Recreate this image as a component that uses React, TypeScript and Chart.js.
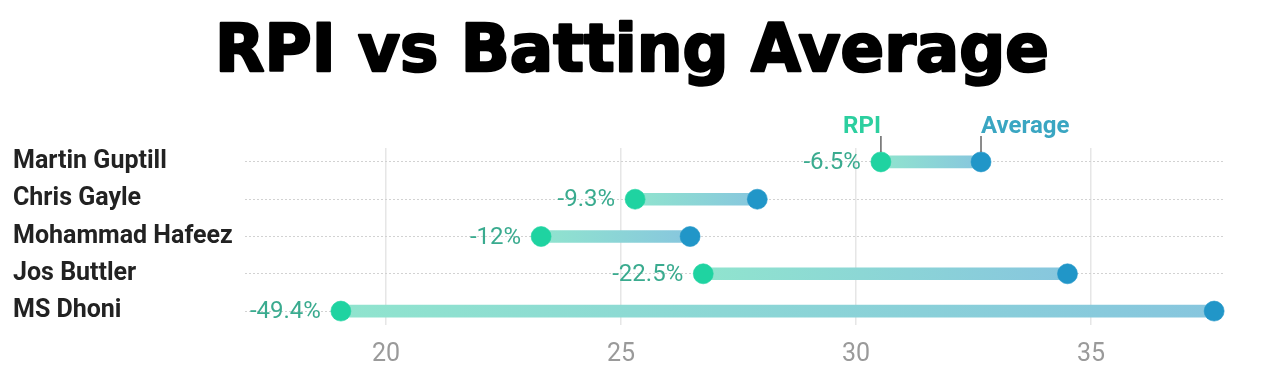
import React, { useEffect, useRef } from "react";
import { Chart, registerables } from "chart.js";

Chart.register(...registerables);

const players = ["Martin Guptill", "Chris Gayle", "Mohammad Hafeez", "Jos Buttler", "MS Dhoni"];
const rpi = [30.53, 25.3, 23.3, 26.75, 19.04];
const average = [32.66, 27.9, 26.47, 34.5, 37.62];
const pctLabels = ["-6.5%", "-9.3%", "-12%", "-22.5%", "-49.4%"];
const xTicks = [20, 25, 30, 35];
const seriesNames = ["RPI", "Average"];
const titleText = "RPI vs Batting Average";

const RPI_COLOR = "#1fd3a1";
const AVG_COLOR = "#2196c8";

const overlayPlugin = {
  id: "overlay",
  afterDatasetsDraw(chart: any) {
    const { ctx, scales } = chart;
    const xs = scales.x;
    const ys = scales.y;
    ctx.save();
    // percentage labels
    ctx.font = "24px Roboto";
    ctx.fillStyle = "#3aab8f";
    ctx.textAlign = "right";
    ctx.textBaseline = "middle";
    for (let i = 0; i < players.length; i++) {
      const px = xs.getPixelForValue(rpi[i]);
      const py = ys.getPixelForValue(i);
      ctx.fillText(pctLabels[i], px - 20, py + 1);
    }
    // series annotations above first row
    const y0 = ys.getPixelForValue(0);
    const rx = xs.getPixelForValue(rpi[0]);
    const ax = xs.getPixelForValue(average[0]);
    ctx.strokeStyle = "#666";
    ctx.lineWidth = 1.5;
    ctx.beginPath();
    ctx.moveTo(rx, y0 - 26);
    ctx.lineTo(rx, y0 - 10);
    ctx.moveTo(ax, y0 - 26);
    ctx.lineTo(ax, y0 - 10);
    ctx.stroke();
    ctx.font = "bold 24px Roboto";
    ctx.textBaseline = "alphabetic";
    ctx.textAlign = "right";
    ctx.fillStyle = "#2ccf9f";
    ctx.fillText(seriesNames[0], rx, y0 - 29);
    ctx.textAlign = "left";
    ctx.fillStyle = "#3aa6c2";
    ctx.fillText(seriesNames[1], ax, y0 - 29);
    // title
    ctx.font = "bold 66px 'DejaVu Sans'";
    ctx.fillStyle = "#000";
    ctx.strokeStyle = "#000";
    ctx.lineJoin = "round";
    ctx.lineWidth = 2.5;
    ctx.textAlign = "left";
    const w = ctx.measureText(titleText).width;
    const target = 834;
    const sx = target / w;
    ctx.translate(chart.width / 2 - target / 2, 71);
    ctx.scale(sx, 1);
    ctx.fillText(titleText, 0, 0);
    ctx.strokeText(titleText, 0, 0);
    ctx.restore();
  },
};

export default function App() {
  const ref = useRef<HTMLCanvasElement | null>(null);
  useEffect(() => {
    document.body.style.margin = "0";
    const canvas = ref.current!;
    const chart = new Chart(canvas, {
      type: "bar",
      data: {
        datasets: [
          {
            type: "line" as any,
            label: seriesNames[0],
            data: rpi.map((v, i) => ({ x: v, y: i })),
            showLine: false,
            pointRadius: 10,
            pointHoverRadius: 10,
            pointBackgroundColor: RPI_COLOR,
            pointBorderColor: "rgba(31,211,161,0.6)",
            pointBorderWidth: 1,
            clip: false,
            order: 0,
          } as any,
          {
            type: "line" as any,
            label: seriesNames[1],
            data: average.map((v, i) => ({ x: v, y: i })),
            showLine: false,
            pointRadius: 10,
            pointHoverRadius: 10,
            pointBackgroundColor: AVG_COLOR,
            pointBorderColor: "rgba(33,150,200,0.6)",
            pointBorderWidth: 1,
            clip: false,
            order: 1,
          } as any,
          {
            type: "bar",
            label: "range",
            data: players.map((_, i) => ({ x: [rpi[i], average[i]], y: i })) as any,
            barThickness: 12,
            grouped: false,
            borderSkipped: false,
            borderRadius: 6,
            order: 2,
            backgroundColor: (c: any) => {
              const ch = c.chart;
              const xs = ch.scales && ch.scales.x;
              if (!ch.chartArea || !xs || !c.raw) return "#8fd9d4";
              const x1 = xs.getPixelForValue(c.raw.x[0]);
              const x2 = xs.getPixelForValue(c.raw.x[1]);
              const g = ch.ctx.createLinearGradient(x1, 0, x2, 0);
              g.addColorStop(0, "#90e4ce");
              g.addColorStop(1, "#87c6de");
              return g;
            },
          } as any,
        ],
      },
      options: {
        indexAxis: "y",
        animation: false,
        responsive: false,
        maintainAspectRatio: false,
        layout: { padding: { left: 13, right: 40, top: 148, bottom: 0 } },
        plugins: { legend: { display: false }, tooltip: { enabled: false }, title: { display: false } },
        scales: {
          x: {
            type: "linear",
            min: 17,
            max: 37.83,
            offset: false,
            afterBuildTicks: (s: any) => {
              s.ticks = xTicks.map((v) => ({ value: v }));
            },
            afterFit: (s: any) => {
              s.height = 56;
            },
            border: { display: false },
            grid: { offset: false, color: "#e6e6e6", lineWidth: 1.5, drawTicks: false },
            ticks: {
              padding: 15,
              color: "#9a9a9a",
              font: { family: "Roboto", size: 25 },
            },
          },
          y: {
            type: "linear",
            reverse: true,
            offset: false,
            min: -0.373,
            max: 4.373,
            afterBuildTicks: (s: any) => {
              s.ticks = players.map((_, i) => ({ value: i }));
            },
            afterFit: (s: any) => {
              s.width = 232;
            },
            border: { display: false, dash: [2, 2] },
            grid: { offset: false, color: "#d2d2d2", lineWidth: 1, drawTicks: false },
            ticks: {
              crossAlign: "far",
              padding: 10,
              color: "#222",
              font: { family: "Roboto", size: 25, weight: "bold" },
              callback: (v: any) => players[v as number],
            },
          },
        },
      },
      plugins: [overlayPlugin],
    });
    return () => chart.destroy();
  }, []);
  return (
    <div style={{ width: 1264, height: 381, background: "#fff" }}>
      <canvas ref={ref} width={1264} height={381} style={{ display: "block" }} />
    </div>
  );
}
